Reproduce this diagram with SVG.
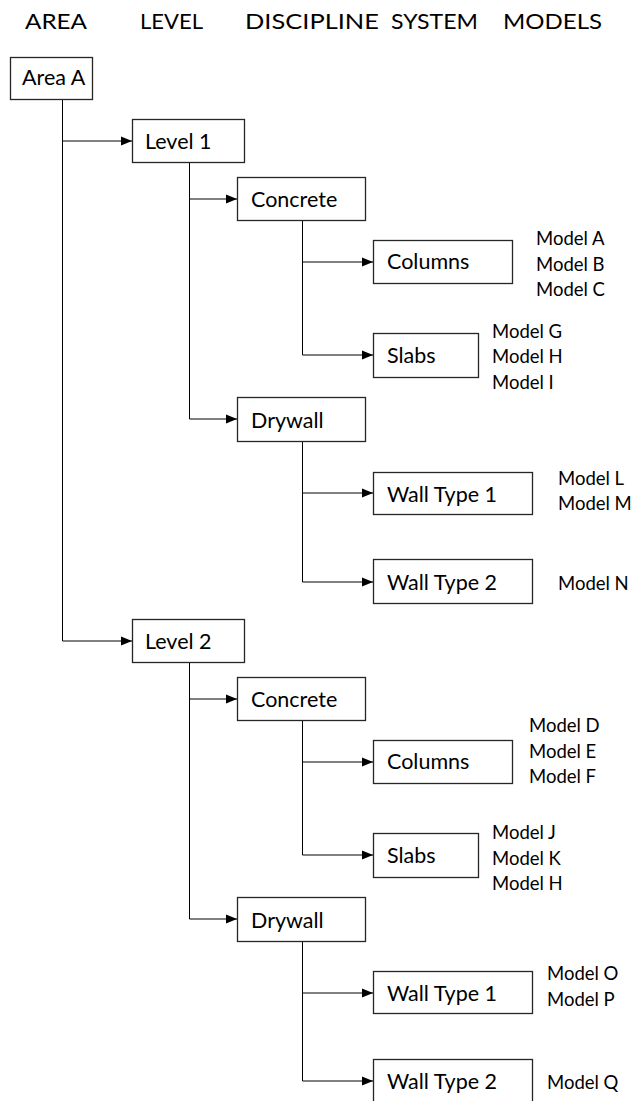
<svg xmlns="http://www.w3.org/2000/svg" width="637" height="1101" viewBox="0 0 637 1101">
<style>
.hdr{font-family:Lato,"Open Sans","Liberation Sans",sans-serif;font-size:22px;fill:#000}
.lbl{font-family:Lato,"Open Sans","Liberation Sans",sans-serif;font-size:21.5px;fill:#000}
.mdl{font-family:Lato,"Open Sans","Liberation Sans",sans-serif;font-size:18.5px;fill:#000}
.box{fill:#fff;stroke:#262626;stroke-width:1.3}
.con{fill:none;stroke:#000;stroke-width:1}
</style>
<defs>
<marker id="arr" markerUnits="userSpaceOnUse" markerWidth="12" markerHeight="12" refX="11" refY="6" orient="auto">
<path d="M0,1.5 L11,6 L0,10.5 Z" fill="#000"/>
</marker>
</defs>
<rect width="637" height="1101" fill="#fff"/>
<g id="headers">
<text class="hdr" x="25" y="29" textLength="62" lengthAdjust="spacingAndGlyphs">AREA</text>
<text class="hdr" x="140" y="29" textLength="63" lengthAdjust="spacingAndGlyphs">LEVEL</text>
<text class="hdr" x="245" y="29" textLength="134" lengthAdjust="spacingAndGlyphs">DISCIPLINE</text>
<text class="hdr" x="391" y="29" textLength="87" lengthAdjust="spacingAndGlyphs">SYSTEM</text>
<text class="hdr" x="503" y="29" textLength="99" lengthAdjust="spacingAndGlyphs">MODELS</text>
</g>
<g id="connectors">
<path class="con" d="M62.5,100 V641"/>
<path class="con" d="M62.5,141 H132" marker-end="url(#arr)"/>
<path class="con" d="M62.5,641 H132" marker-end="url(#arr)"/>
<path class="con" d="M189.5,162 V419"/>
<path class="con" d="M189.5,199 H237" marker-end="url(#arr)"/>
<path class="con" d="M189.5,419 H237" marker-end="url(#arr)"/>
<path class="con" d="M302.5,220 V355"/>
<path class="con" d="M302.5,262 H373" marker-end="url(#arr)"/>
<path class="con" d="M302.5,355 H373" marker-end="url(#arr)"/>
<path class="con" d="M302.5,441 V582"/>
<path class="con" d="M302.5,493 H373" marker-end="url(#arr)"/>
<path class="con" d="M302.5,582 H373" marker-end="url(#arr)"/>
<path class="con" d="M189.5,662 V919"/>
<path class="con" d="M189.5,699 H237" marker-end="url(#arr)"/>
<path class="con" d="M189.5,919 H237" marker-end="url(#arr)"/>
<path class="con" d="M302.5,720 V855"/>
<path class="con" d="M302.5,762 H373" marker-end="url(#arr)"/>
<path class="con" d="M302.5,855 H373" marker-end="url(#arr)"/>
<path class="con" d="M302.5,941 V1081"/>
<path class="con" d="M302.5,993 H373" marker-end="url(#arr)"/>
<path class="con" d="M302.5,1081 H373" marker-end="url(#arr)"/>
</g>
<g id="areaA"><rect class="box" x="10.5" y="57.5" width="82" height="42"/><text class="lbl" x="22" y="85">Area A</text></g>
<g id="level1"><rect class="box" x="132.5" y="119.5" width="112" height="43"/><text class="lbl" x="145" y="149">Level 1</text></g>
<g id="concrete1"><rect class="box" x="237.5" y="177.5" width="128" height="43"/><text class="lbl" x="251" y="207">Concrete</text></g>
<g id="columns1"><rect class="box" x="373.5" y="240.5" width="139" height="43"/><text class="lbl" x="387" y="269">Columns</text></g>
<g id="slabs1"><rect class="box" x="373.5" y="333.5" width="105" height="44"/><text class="lbl" x="387" y="363">Slabs</text></g>
<g id="drywall1"><rect class="box" x="237.5" y="397.5" width="128" height="44"/><text class="lbl" x="251" y="428">Drywall</text></g>
<g id="walltype1a"><rect class="box" x="373.5" y="472.5" width="159" height="42"/><text class="lbl" x="387" y="502">Wall Type 1</text></g>
<g id="walltype2a"><rect class="box" x="373.5" y="559.5" width="159" height="44"/><text class="lbl" x="387" y="590">Wall Type 2</text></g>
<g id="level2"><rect class="box" x="132.5" y="619.5" width="112" height="43"/><text class="lbl" x="145" y="649">Level 2</text></g>
<g id="concrete2"><rect class="box" x="237.5" y="677.5" width="128" height="43"/><text class="lbl" x="251" y="707">Concrete</text></g>
<g id="columns2"><rect class="box" x="373.5" y="740.5" width="139" height="43"/><text class="lbl" x="387" y="769">Columns</text></g>
<g id="slabs2"><rect class="box" x="373.5" y="833.5" width="105" height="44"/><text class="lbl" x="387" y="863">Slabs</text></g>
<g id="drywall2"><rect class="box" x="237.5" y="897.5" width="128" height="44"/><text class="lbl" x="251" y="928">Drywall</text></g>
<g id="walltype1b"><rect class="box" x="373.5" y="971.5" width="159" height="42"/><text class="lbl" x="387" y="1001">Wall Type 1</text></g>
<g id="walltype2b"><rect class="box" x="373.5" y="1059.5" width="159" height="44"/><text class="lbl" x="387" y="1089">Wall Type 2</text></g>
<g id="models">
<text class="mdl" x="536" y="245">Model A</text>
<text class="mdl" x="536" y="271">Model B</text>
<text class="mdl" x="536" y="296">Model C</text>
<text class="mdl" x="492" y="338">Model G</text>
<text class="mdl" x="492" y="363">Model H</text>
<text class="mdl" x="492" y="389">Model I</text>
<text class="mdl" x="558" y="485">Model L</text>
<text class="mdl" x="558" y="510">Model M</text>
<text class="mdl" x="558" y="590">Model N</text>
<text class="mdl" x="529" y="732">Model D</text>
<text class="mdl" x="529" y="758">Model E</text>
<text class="mdl" x="529" y="783">Model F</text>
<text class="mdl" x="492" y="839">Model J</text>
<text class="mdl" x="492" y="865">Model K</text>
<text class="mdl" x="492" y="890">Model H</text>
<text class="mdl" x="547" y="980">Model O</text>
<text class="mdl" x="547" y="1006">Model P</text>
<text class="mdl" x="547" y="1089">Model Q</text>
</g>
</svg>
